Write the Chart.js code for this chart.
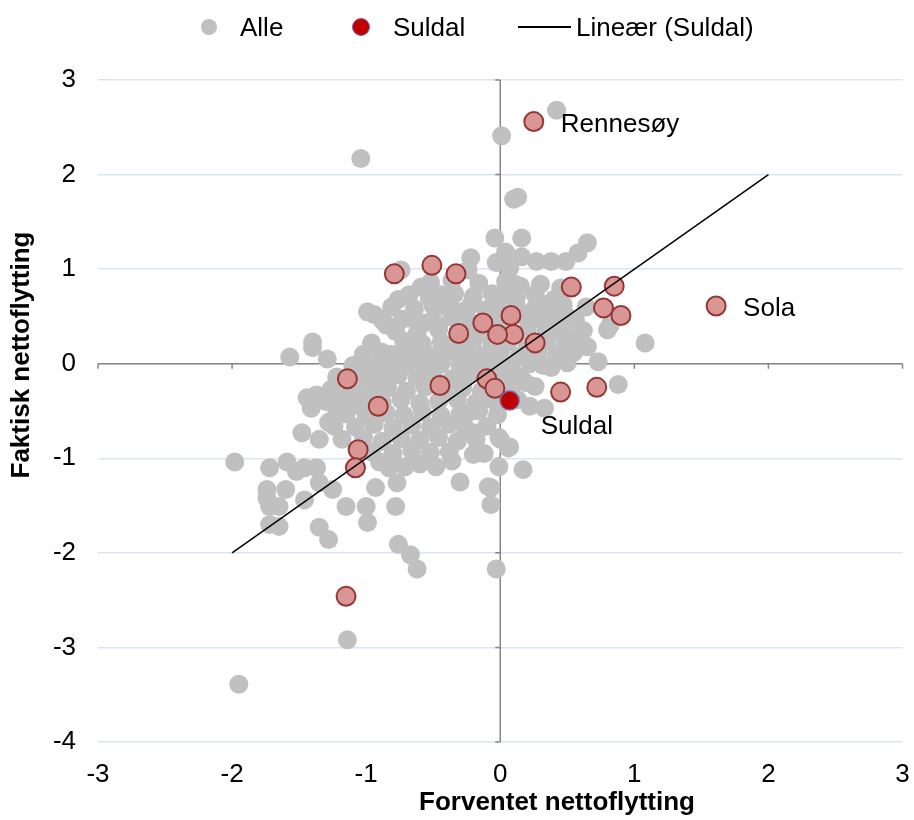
<!DOCTYPE html>
<html>
<head>
<meta charset="utf-8">
<script src="https://cdn.jsdelivr.net/npm/chart.js@4/dist/chart.umd.min.js"></script>
<style>
    body { margin: 0; background: #fff; font-family: Arial, "Liberation Sans", sans-serif; }
    #wrap { position: relative; width: 914px; height: 820px; }
    #legend { position: absolute; left: 0; top: 0; width: 914px; height: 56px; font-size: 26px; color: #000; }
    #legend .dot { position: absolute; top: 19px; width: 16px; height: 16px; border-radius: 50%; box-sizing: border-box; }
    #legend .txt { position: absolute; top: 12px; line-height: 30px; white-space: nowrap; }
    #legend .ln { position: absolute; top: 26px; height: 2px; background: #000; }
</style>
</head>
<body>
<div id="wrap">
    <div id="legend">
        <span class="dot" style="left:201px;background:#c0c0c0"></span>
        <span class="txt" style="left:240px">Alle</span>
        <span class="dot" style="left:352px;background:#c00000;border:1.5px solid #8064a2;width:18px;height:18px;top:18px"></span>
        <span class="txt" style="left:393px">Suldal</span>
        <span class="ln" style="left:518px;width:53px"></span>
        <span class="txt" style="left:576px">Lineær (Suldal)</span>
    </div>
    <canvas id="chart" width="914" height="820"></canvas>
</div>
<script>
// Alle kommuner: [forventet, faktisk] nettoflytting
const alle = [
    [0.42, 2.68], [0.01, 2.41], [-1.04, 2.17], [0.10, 1.74], [0.13, 1.76],
    [-0.04, 1.33], [0.16, 1.33], [0.65, 1.28], [0.58, 1.17], [0.49, 1.08], [0.38, 1.08], [0.27, 1.08],
    [0.16, 1.13], [0.04, 1.18], [-0.03, 1.07], [0.07, 1.01], [-0.22, 1.12], [-0.24, 0.99],
    [-0.57, 0.81], [-0.44, 0.73], [-0.37, 0.59], [-0.29, 0.55], [-0.11, 0.57], [0.01, 0.71], [0.11, 0.84],
    [0.15, 0.82], [0.30, 0.84], [0.45, 0.80], [0.30, 0.64], [0.25, 0.57], [0.19, 0.49], [0.50, 0.50],
    [0.64, 0.60], [0.82, 0.41], [1.08, 0.22], [-0.46, 0.39], [-0.57, 0.43],
    [0.88, -0.22], [0.73, 0.02], [0.65, 0.18], [0.58, 0.31], [0.50, 0.01], [0.38, -0.04], [0.26, -0.24],
    [0.19, -0.20], [0.22, -0.45], [0.33, -0.47], [0.13, -0.38], [0.00, -0.80], [0.07, -0.88],
    [-0.01, -1.09], [0.17, -1.12], [-0.09, -1.30], [-0.20, -0.73], [-0.24, -0.52], [0.80, 0.36],
    [-1.57, 0.07], [-1.40, 0.23], [-1.40, 0.17], [-1.29, 0.05], [-1.06, 0.00], [-0.99, 0.55], [-0.94, 0.52],
    [-0.85, 0.41], [-0.76, 0.68], [-0.81, 0.60], [-0.73, 0.47], [-0.74, 0.99], [-0.59, 0.81], [-0.39, 0.59],
    [-0.61, 0.39], [-0.71, 0.22], [-0.81, 0.10], [-0.93, -0.03], [-1.13, -0.17],
    [-1.98, -1.04], [-1.95, -3.39], [-1.14, -2.92], [-0.76, -1.91], [-0.67, -2.02], [-0.62, -2.17],
    [-0.03, -2.17], [-1.35, -1.73], [-1.28, -1.86], [-0.07, -1.49], [-0.07, -1.31], [0.06, -0.89],
    [-0.01, -0.78], [-0.30, -1.25], [-0.20, -0.96], [-0.48, -1.09], [-0.71, -1.09], [-0.83, -1.10],
    [-0.78, -1.51], [-0.77, -1.26], [-0.93, -1.31], [-1.00, -1.51], [-0.99, -1.68], [-1.15, -1.51],
    [-1.25, -1.33], [-1.46, -1.44], [-1.35, -1.26], [-1.37, -1.10], [-1.46, -1.10], [-1.52, -1.14],
    [-1.59, -1.04], [-1.72, -1.10], [-1.74, -1.33], [-1.74, -1.42], [-1.72, -1.51], [-1.65, -1.51],
    [-1.72, -1.70], [-1.65, -1.72], [-1.60, -1.33], [-1.48, -0.73], [-1.35, -0.80], [-1.44, -0.36],
    [-1.37, -0.33], [-1.41, -0.47], [-1.20, -0.35], [-1.28, -0.62], [-1.22, -0.51], [-1.08, -0.36],
    [-1.11, -0.45],
    [-0.52, 0.86], [-0.36, 0.88], [-0.16, 0.85], [0.04, 0.87],
    [-0.68, 0.73], [-0.53, 0.70], [-0.34, 0.74], [-0.20, 0.71], [-0.06, 0.74], [0.12, 0.70], [0.26, 0.73], [0.40, 0.68],
    [-0.64, 0.58], [-0.50, 0.61], [-0.22, 0.62], [-0.02, 0.59], [0.12, 0.61], [0.38, 0.58], [0.47, 0.62],
    [-0.88, 0.46], [-0.66, 0.48], [-0.50, 0.46], [-0.36, 0.49], [-0.22, 0.44], [-0.06, 0.47], [0.06, 0.45],
    [0.30, 0.47], [0.40, 0.44], [0.56, 0.46],
    [-0.78, 0.34], [-0.62, 0.32], [-0.46, 0.36], [-0.28, 0.35], [-0.15, 0.33], [0.02, 0.37], [0.20, 0.35],
    [0.34, 0.36], [0.46, 0.32], [0.62, 0.35],
    [-0.96, 0.22], [-0.72, 0.24], [-0.58, 0.21], [-0.44, 0.23], [-0.32, 0.20], [-0.20, 0.24], [-0.06, 0.21],
    [0.06, 0.23], [0.20, 0.20], [0.34, 0.24], [0.48, 0.21], [0.60, 0.23],
    [-1.02, 0.10], [-0.88, 0.12], [-0.75, 0.09], [-0.62, 0.11], [-0.50, 0.08], [-0.38, 0.12], [-0.25, 0.10],
    [-0.12, 0.09], [0.00, 0.12], [0.14, 0.08], [0.28, 0.11], [0.42, 0.10], [0.55, 0.12],
    [-1.10, -0.02], [-0.96, -0.01], [-0.84, -0.04], [-0.70, -0.01], [-0.58, -0.03], [-0.44, 0.00],
    [-0.30, -0.02], [-0.18, -0.04], [-0.05, -0.01], [0.08, -0.03], [0.22, 0.00], [0.32, -0.02],
    [-1.22, -0.14], [-1.00, -0.13], [-0.88, -0.16], [-0.76, -0.12], [-0.62, -0.15], [-0.50, -0.13],
    [-0.36, -0.16], [-0.24, -0.12], [-0.08, -0.15], [0.04, -0.13], [0.15, -0.14],
    [-1.26, -0.27], [-1.10, -0.25], [-0.97, -0.28], [-0.84, -0.26], [-0.70, -0.29], [-0.56, -0.25],
    [-0.42, -0.28], [-0.28, -0.26], [-0.14, -0.29], [0.08, -0.27],
    [-1.30, -0.40], [-1.18, -0.42], [-1.02, -0.39], [-0.88, -0.41], [-0.74, -0.38], [-0.60, -0.42],
    [-0.46, -0.40], [-0.32, -0.38], [-0.18, -0.41], [-0.05, -0.39],
    [-1.15, -0.53], [-1.00, -0.55], [-0.85, -0.52], [-0.72, -0.54], [-0.58, -0.51], [-0.44, -0.55],
    [-0.30, -0.53], [-0.16, -0.50], [-0.02, -0.54],
    [-1.24, -0.66], [-1.08, -0.67], [-0.94, -0.64], [-0.80, -0.68], [-0.66, -0.65], [-0.52, -0.67],
    [-0.38, -0.64], [-0.26, -0.68], [-0.10, -0.66],
    [-1.18, -0.80], [-1.02, -0.78], [-0.88, -0.82], [-0.74, -0.79], [-0.60, -0.81], [-0.46, -0.78],
    [-0.32, -0.82], [-0.18, -0.80],
    [-0.96, -0.93], [-0.80, -0.95], [-0.66, -0.92], [-0.52, -0.94], [-0.38, -0.93], [-0.12, -0.95],
    [-0.90, -1.04], [-0.60, -1.06], [-0.36, -1.03]
];

// Kommuner i regionen (uthevet)
const region = [
    [0.25, 2.56], [1.61, 0.61], [-0.79, 0.95], [-0.51, 1.04], [-0.33, 0.95], [0.85, 0.82], [0.53, 0.81],
    [0.77, 0.59], [0.90, 0.51], [0.08, 0.51], [-0.13, 0.43], [-0.31, 0.32], [0.10, 0.31], [-0.02, 0.31],
    [0.26, 0.22], [-1.14, -0.16], [-0.10, -0.16], [-0.45, -0.23], [-0.04, -0.26], [0.45, -0.30],
    [0.72, -0.25], [-0.91, -0.45], [-1.06, -0.91], [-1.08, -1.10], [-1.15, -2.46]
];
const regionLabels = { 0: 'Rennesøy', 1: 'Sola' };

const suldal = [[0.07, -0.39]];

// Lineær trendlinje
const trendX = [-2, 2];
const trendY = [-2, 2];

const xTicks = [-3, -2, -1, 0, 1, 2, 3];
const yTicks = [-4, -3, -2, -1, 0, 1, 2, 3];

const toXY = arr => arr.map(p => ({ x: p[0], y: p[1] }));
const FONT = 'Arial, "Liberation Sans", sans-serif';

// axis lines through origin with small tick marks
const crossAxes = {
    id: 'crossAxes',
    beforeDatasetsDraw(chart) {
        const { ctx, scales: { x, y } } = chart;
        const x0 = x.getPixelForValue(0);
        const y0 = y.getPixelForValue(0);
        ctx.save();
        ctx.strokeStyle = '#868686';
        ctx.lineWidth = 1.5;
        ctx.beginPath();
        ctx.moveTo(x.left, y0);
        ctx.lineTo(x.right, y0);
        xTicks.forEach(v => {
            const px = x.getPixelForValue(v);
            ctx.moveTo(px, y0);
            ctx.lineTo(px, y0 + 5);
        });
        ctx.moveTo(x0, y.top);
        ctx.lineTo(x0, y.bottom);
        yTicks.forEach(v => {
            const py = y.getPixelForValue(v);
            ctx.moveTo(x0, py);
            ctx.lineTo(x0 - 5, py);
        });
        ctx.stroke();
        ctx.restore();
    }
};

// point names and axis titles
const textLayer = {
    id: 'textLayer',
    afterDatasetsDraw(chart) {
        const ctx = chart.ctx;
        ctx.save();
        ctx.font = '26px ' + FONT;
        ctx.fillStyle = '#000';
        ctx.textAlign = 'left';
        ctx.textBaseline = 'middle';
        const regionMeta = chart.getDatasetMeta(3);
        Object.keys(regionLabels).forEach(i => {
            const pt = regionMeta.data[i];
            ctx.fillText(regionLabels[i], pt.x + 27, pt.y + 3);
        });
        const s = chart.getDatasetMeta(1).data[0];
        ctx.fillText('Suldal', s.x + 31, s.y + 26);

        ctx.font = 'bold 26px ' + FONT;
        ctx.textAlign = 'center';
        ctx.fillText('Forventet nettoflytting', 557, 803);
        ctx.translate(22, 355);
        ctx.rotate(-Math.PI / 2);
        ctx.fillText('Faktisk nettoflytting', 0, 0);
        ctx.restore();
    }
};

const ctx = document.getElementById('chart').getContext('2d');
new Chart(ctx, {
    type: 'scatter',
    data: {
        datasets: [
            {
                label: 'Alle',
                data: toXY(alle),
                backgroundColor: '#c0c0c0',
                borderWidth: 0,
                pointRadius: 9.5,
                order: 4
            },
            {
                label: 'Suldal',
                data: toXY(suldal),
                backgroundColor: '#c00000',
                borderColor: '#8064a2',
                borderWidth: 1.5,
                pointRadius: 9.5,
                order: 1
            },
            {
                label: 'Lineær (Suldal)',
                type: 'line',
                data: trendX.map((v, i) => ({ x: v, y: trendY[i] })),
                borderColor: '#000',
                borderWidth: 1.5,
                pointRadius: 0,
                fill: false,
                order: 0
            },
            {
                label: 'Region',
                data: toXY(region),
                backgroundColor: '#d99694',
                borderColor: '#953735',
                borderWidth: 2,
                pointRadius: 9.5,
                order: 3
            }
        ]
    },
    options: {
        responsive: false,
        animation: false,
        devicePixelRatio: 1,
        layout: { padding: { top: 80, right: 8, left: 0, bottom: 0 } },
        plugins: {
            legend: { display: false },
            tooltip: { enabled: false }
        },
        scales: {
            x: {
                type: 'linear',
                min: -3,
                max: 3,
                afterFit: s => { s.height = 78; s.paddingLeft = 0; s.paddingRight = 0; },
                afterBuildTicks: s => { s.ticks = xTicks.map(v => ({ value: v })); },
                ticks: { color: '#000', font: { size: 26, family: FONT }, padding: 17 },
                grid: { display: false, drawTicks: false },
                border: { display: false }
            },
            y: {
                type: 'linear',
                min: -4,
                max: 3,
                afterFit: s => { s.width = 98; },
                afterBuildTicks: s => { s.ticks = yTicks.map(v => ({ value: v })); },
                ticks: { color: '#000', font: { size: 26, family: FONT }, padding: 22 },
                grid: { color: '#dbe4f1', lineWidth: 1.5, drawTicks: false },
                border: { display: false }
            }
        }
    },
    plugins: [crossAxes, textLayer]
});
</script>
</body>
</html>
